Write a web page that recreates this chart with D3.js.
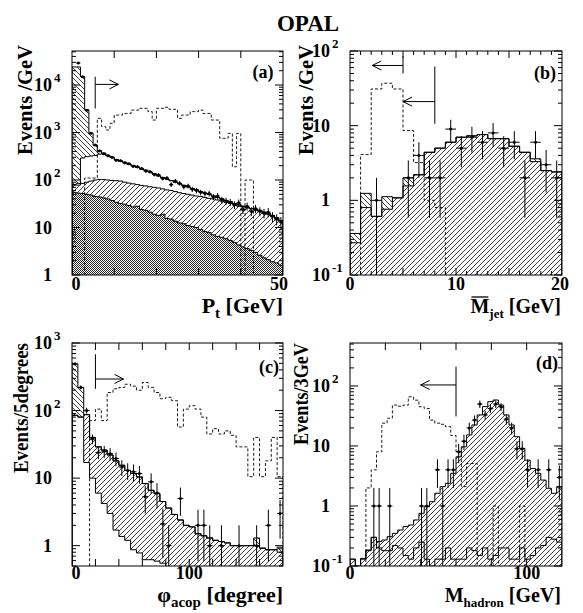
<!DOCTYPE html>
<html>
<head>
<meta charset="utf-8">
<script src="https://cdn.jsdelivr.net/npm/d3@7/dist/d3.min.js"></script>
<style>
html,body{margin:0;padding:0;background:#fff;}
svg text{font-family:"Liberation Serif","Times New Roman",Times,serif;font-weight:bold;fill:#000;}
</style>
</head>
<body>
<svg id="chart" width="583" height="613"></svg>
<script>
// ================= DATA =================
// (a) Pt [GeV], 1 GeV bins 0..50
const ptEdges = d3.range(0, 51, 1);
const ptTotal = [24000,24000,15000,3000,960,540,420,370,330,300,
  270,250,235,215,200,185,170,160,148,135,
  122,112,105,97,90,83,77,72,66,62,
  57,53,50,46,43,40,37,35,32,30,
  28,27,25,24,23,21,20,18,16,14];
const ptWhiteTop = [80,85,290,310,320,330,350,360,330,300,
  270,250,235,215,200,185,170,160,148,135,
  122,112,105,97,90,83,77,72,66,62,
  57,53,50,46,43,40,37,35,32,30,
  28,27,25,24,23,21,20,18,16,14];
const ptHatchTop = [78,78,85,90,95,100,103,102,100,98,
  97,95,90,86,83,80,77,75,72,70,
  68,65,62,60,57,54,52,50,48,46,
  45,43,41,40,38,36,34,32,30,28,
  27,26,25,23,22,20,19,17,15,14];
const ptDense = [55,53,52,50,48,45,44,42,40,37,
  34,32,31,29,27,28,24,23,21,19,
  18,19,15.5,15,13.5,12.5,12,11,10.5,10,
  9,8.2,7.8,7,6.5,6.2,5.8,5.3,4.8,4.3,
  3.9,3.6,3.3,3.0,2.6,2.3,2.1,1.9,1.8,1.6];
const ptData = [0,29000,15000,2950,970,545,410,355,325,300,
  262,255,230,220,195,190,175,155,150,130,
  128,108,110,80,95,85,72,75,64,60,
  55,52,52,44,46,38,36,34,30,33,
  24,28,22,25,22,20,21,17,15,13];
const ptSignal = [0,0,0,110,110,110,1990,1330,1130,1560,
  2330,2330,2520,2520,2960,2960,3230,3230,2750,1830,
  3230,3230,3400,3080,3080,1990,2330,2330,2750,2750,
  2960,2520,2520,1830,1830,755,755,960,190,960,
  0,100,100,0,0,0,0,0,0,0];
const ptCut = {x:5.5, top:15000, bottom:3200, arrowY:10300, to:11};

// (b) mean jet mass [GeV], 1 GeV bins 0..20
const mjEdges = d3.range(0, 21, 1);
const mjTotal = [0.36,1.24,0.61,1.12,1.08,2.0,2.2,4.4,5.0,6.0,7.0,7.3,7.6,6.7,6.7,5.3,4.4,3.6,2.5,2.4];
const mjLower = [0.27,0.8,0.61,0.76,1.08,1.56,2.2,4.4,5.0,6.0,7.0,7.3,7.6,6.7,6.7,5.3,4.4,3.3,2.5,2.4];
const mjData = [0,0,1,0,0,2,4,2,2,9,5,7,6,8,5,6,2,6,3,2];
const mjSignal = [0,4.1,31,37,31,8.6,3.2,1.0,0.8,0,0,0,0,0,0,0,0,0,0,0];
const mjCuts = [{x:5, top:85, bottom:50, arrowY:64, to:2.1},
                {x:8, top:62, bottom:10.6, arrowY:21, to:5}];

// (c) phi_acop [degree], 5 degree bins 0..180
const acEdges = d3.range(0, 181, 5);
const acTotal = [490,220,87,40,29,26,22,18,15.5,13,11.7,10.4,8.3,6.6,5.9,4.5,3.6,2.9,2.4,2.0,
  1.9,1.5,1.4,1.3,1.2,1.15,1.1,1.0,1.0,1.0,1.0,1.3,0.92,0.87,0.87,0.95];
const acLower = [85,80,87,40,29,26,22,18,15.5,13,11.7,10.4,8.3,6.6,5.9,4.5,3.6,2.9,2.4,2.0,
  1.9,1.5,1.4,1.3,1.2,1.15,1.1,1.0,1.0,1.0,1.0,1.0,0.92,0.87,0.87,0.8];
const acWhite = [85,80,17,10,6,4.2,3.0,1.7,1.37,1.2,0.87,0.78,0.62,0.62,0.59,0.55,0,0,0,0,
  0,0,0,0,0,0,0,0,0,0,0,0,0,0,0,0];
const acData = [490,220,100,38,24,25,23,19.5,14.6,13,12.4,11.7,5.3,8.8,6,2.1,1,0,5,0,
  0,2,2,1,0,1,0,0,1,0,0,1,0,2,0,3];
const acSignal = [0,0,0,71,105,71,185,210,220,245,230,200,260,220,185,150,157,140,57,105,
  118,105,80,45,54,45,50,43,29,29,10.5,40,10.5,18,40,10.5];
const acCut = {x:20, top:680, bottom:210, arrowY:293, to:44};

// (d) M_hadron [GeV], 3 GeV bins 0..120
const mhEdges = d3.range(0, 121, 3);
const mhTotal = [0.13,0,0.134,0.185,0.3,0.255,0.271,0.308,0.35,0.398,
  0.453,0.482,0.585,0.755,0.975,1.18,1.63,2.1,2.39,3.5,
  6.6,9.7,15.3,22.4,32.9,45.3,54.8,58.4,48.2,32.9,
  22.4,14.3,9.1,5.8,4.2,3.5,2.7,1.97,1.63,2.1];
const mhLower = [0.13,0.1,0.13,0.18,0.3,0.2,0.18,0.18,0.22,0.2,
  0.15,0.13,0.2,0.25,0.13,0.1,0.13,0.13,0.2,0.13,
  0.13,0.13,0.2,0.18,0.15,0.2,0.13,0.15,0.2,0.2,
  0.13,0.13,0.2,0.13,0.15,0.2,0.22,0.3,0.28,0.25];
const mhData = [0,0,0,0,1,1,0,1,0,0,0,0,0,1,1,0,4,1,4,4,
  8,12,20,27,50,33,42,50,45,28,20,9,9,4,0,4,0,4,0,3];
const mhSignal = [0,0,0,2,4,8,24,29,48,46,48,66,58,45,42,27,24,23,21,15,
  8,2.1,5.1,5.1,0,0,0,1,0,0,0,0,1,0,0,0,0,0,0,0];
const mhCut = {x:60, top:210, bottom:31, arrowY:104, to:40};

// ================= DRAWING =================
const svg = d3.select('#chart');
const defs = svg.append('defs');

function hatch(id, d, w){
  const p = defs.append('pattern').attr('id', id).attr('patternUnits','userSpaceOnUse')
    .attr('width', w).attr('height', w);
  p.append('path').attr('d', d).attr('stroke','#000').attr('stroke-width',0.75).attr('fill','none');
}
const hs = 5;
hatch('fwd', `M-1,1 L1,-1 M0,${hs} L${hs},0 M${hs-1},${hs+1} L${hs+1},${hs-1}`, hs);
hatch('bwd', `M-1,${hs-1} L1,${hs+1} M0,0 L${hs},${hs} M${hs-1},-1 L${hs+1},1`, hs);
const dp = defs.append('pattern').attr('id','dense').attr('patternUnits','userSpaceOnUse')
  .attr('width',2).attr('height',2);
dp.append('rect').attr('width',2).attr('height',2).attr('fill','#fff');
dp.append('rect').attr('width',1).attr('height',1).attr('fill','#222');
dp.append('rect').attr('x',1).attr('y',1).attr('width',1).attr('height',1).attr('fill','#222');

function makePanel(key, fr, xDom, yDom){
  const x = d3.scaleLinear().domain(xDom).range([fr.x0, fr.x1]);
  const y = d3.scaleLog().domain(yDom).range([fr.y1, fr.y0]);
  const floorV = yDom[0]*1e-3;
  const yc = v => y(Math.max(v || 0, floorV));
  defs.append('clipPath').attr('id','clip-'+key).append('rect')
    .attr('x',fr.x0).attr('y',fr.y0).attr('width',fr.x1-fr.x0).attr('height',fr.y1-fr.y0);
  const g = svg.append('g');
  const plot = g.append('g').attr('clip-path',`url(#clip-${key})`);
  return {g, plot, x, y, yc, fr, xDom, yDom};
}

function band(P, edges, lo, hi, fill){
  const pts = [];
  hi.forEach((v,i)=>{ const l = lo ? lo[i] : 0; pts.push([edges[i],l,v]); pts.push([edges[i+1],l,v]); });
  P.plot.append('path')
    .attr('d', d3.area().x(d=>P.x(d[0])).y0(d=>P.yc(d[1])).y1(d=>P.yc(d[2]))(pts))
    .attr('fill', fill).attr('stroke','none');
}

function outline(P, edges, vals, dashed){
  const pts = [[edges[0],0]];
  vals.forEach((v,i)=>{ pts.push([edges[i],v]); pts.push([edges[i+1],v]); });
  pts.push([edges[edges.length-1],0]);
  P.plot.append('path')
    .attr('d', d3.line().x(d=>P.x(d[0])).y(d=>P.yc(d[1]))(pts))
    .attr('fill','none').attr('stroke','#000')
    .attr('stroke-width', dashed ? 0.9 : 1)
    .attr('stroke-dasharray', dashed ? '3,2' : null);
}

function dataPts(P, edges, vals){
  vals.forEach((v,i)=>{
    if(!v) return;
    const xl = P.x(edges[i]), xr = P.x(edges[i+1]), xm = (xl+xr)/2;
    const e = Math.sqrt(v), yv = P.yc(v);
    P.plot.append('line').attr('x1',xm).attr('x2',xm)
      .attr('y1',P.yc(v-e)).attr('y2',P.yc(v+e)).attr('stroke','#000').attr('stroke-width',1);
    P.plot.append('line').attr('x1',xl).attr('x2',xr).attr('y1',yv).attr('y2',yv)
      .attr('stroke','#000').attr('stroke-width',1);
    P.plot.append('circle').attr('cx',xm).attr('cy',yv).attr('r',1.5).attr('fill','#000');
  });
}

function cutArrow(P, c){
  const X = P.x(c.x), X2 = P.x(c.to), Y = P.y(c.arrowY);
  const g = P.g.append('g').attr('stroke','#000').attr('stroke-width',1).attr('fill','none');
  g.append('line').attr('x1',X).attr('x2',X).attr('y1',P.y(c.top)).attr('y2',P.y(c.bottom));
  g.append('line').attr('x1',X).attr('x2',X2).attr('y1',Y).attr('y2',Y);
  const dir = Math.sign(X2-X);
  g.append('path').attr('d',`M${X2-dir*9},${Y-4.5} L${X2},${Y} L${X2-dir*9},${Y+4.5}`);
}

// xLabels: [value, pixel nudge]
function axes(P, xTicks, xLabels, xLabBase){
  const f = P.fr, g = P.g.append('g');
  g.append('rect').attr('x',f.x0).attr('y',f.y0).attr('width',f.x1-f.x0).attr('height',f.y1-f.y0)
    .attr('fill','none').attr('stroke','#000').attr('stroke-width',1);
  const tk = g.append('g').attr('stroke','#000').attr('stroke-width',1);
  xTicks.forEach(([v,len])=>{
    const X = P.x(v);
    tk.append('line').attr('x1',X).attr('x2',X).attr('y1',f.y1).attr('y2',f.y1-len);
    tk.append('line').attr('x1',X).attr('x2',X).attr('y1',f.y0).attr('y2',f.y0+len);
  });
  xLabels.forEach(([v,nudge])=>{
    g.append('text').attr('x',P.x(v)+nudge).attr('y',xLabBase).attr('text-anchor','middle')
      .attr('font-size',18).text(String(v));
  });
  const [lo,hi] = P.yDom;
  for(let e=Math.floor(Math.log10(lo)); e<=Math.ceil(Math.log10(hi)); e++){
    for(let m=1; m<=9; m++){
      const v = m*Math.pow(10,e);
      if(v < lo*0.999 || v > hi*1.001) continue;
      const Y = P.y(v), len = m===1 ? 8 : 4;
      tk.append('line').attr('x1',f.x0).attr('x2',f.x0+len).attr('y1',Y).attr('y2',Y);
      tk.append('line').attr('x1',f.x1).attr('x2',f.x1-len).attr('y1',Y).attr('y2',Y);
      if(m===1){
        if(e===0){
          g.append('text').attr('x',f.x0-20).attr('y',Y+6).attr('text-anchor','end').attr('font-size',18).text('1');
        } else {
          g.append('text').attr('x',f.x0-20).attr('y',Y+6).attr('text-anchor','end').attr('font-size',18).text('10');
          if(e!==1){
            g.append('text').attr('x',f.x0-18).attr('y',Y-3).attr('text-anchor','start').attr('font-size',13).text(String(e));
          }
        }
      }
    }
  }
}

function yTitle(xb, yTop, txt, len){
  svg.append('text').attr('transform',`translate(${xb},${yTop}) rotate(-90)`)
    .attr('text-anchor','end').attr('font-size',20)
    .attr('textLength',len).attr('lengthAdjust','spacingAndGlyphs').text(txt);
}
function xTitle(xr, yb, parts, size){
  const t = svg.append('text').attr('x',xr).attr('y',yb).attr('text-anchor','end').attr('font-size',size);
  let prevSub = false;
  parts.forEach(p=>{
    const s = t.append('tspan').text(p.t);
    if(p.sub){ s.attr('font-size',Math.round(size*0.66)).attr('dy',5); }
    else if(prevSub){ s.attr('dy',-5); }
    prevSub = !!p.sub;
  });
  return t;
}
function panelLabel(x, y, txt){
  svg.append('text').attr('x',x).attr('y',y).attr('text-anchor','middle').attr('font-size',18).text(txt);
}

// Title
svg.append('text').attr('x',308).attr('y',31).attr('text-anchor','middle').attr('font-size',23).text('OPAL');

// ---- Panel (a)
const PA = makePanel('a', {x0:72,x1:283,y0:51,y1:275}, [0,50], [1,52000]);
band(PA, ptEdges, null, ptDense, 'url(#dense)');
band(PA, ptEdges, ptDense, ptHatchTop, 'url(#fwd)');
band(PA, ptEdges, ptWhiteTop, ptTotal, 'url(#bwd)');
outline(PA, ptEdges, ptDense);
outline(PA, ptEdges, ptHatchTop);
outline(PA, ptEdges, ptWhiteTop);
outline(PA, ptEdges, ptTotal);
outline(PA, ptEdges, ptSignal, true);
dataPts(PA, ptEdges, ptData);
cutArrow(PA, ptCut);
axes(PA, [10,20,30,40].map(v=>[v,7]), [[0,4],[50,-4]], 290);
panelLabel(263, 78, '(a)');
yTitle(32, 45, 'Events /GeV', 110);
xTitle(283, 313, [{t:'P'},{t:'t',sub:true},{t:' [GeV]'}], 22);

// ---- Panel (b)
const PB = makePanel('b', {x0:350,x1:562,y0:51,y1:275}, [0,20], [0.1,100]);
band(PB, mjEdges, null, mjLower, 'url(#fwd)');
band(PB, mjEdges, mjLower, mjTotal, 'url(#bwd)');
outline(PB, mjEdges, mjLower);
outline(PB, mjEdges, mjTotal);
outline(PB, mjEdges, mjSignal, true);
dataPts(PB, mjEdges, mjData);
mjCuts.forEach(c=>cutArrow(PB, c));
axes(PB, d3.range(1,20).map(v=>[v, v%5===0 ? 7 : 4]), [[0,0],[10,0],[20,-2]], 290);
panelLabel(545, 79, '(b)');
yTitle(313, 45, 'Events /GeV', 110);
const tb = xTitle(561, 313, [{t:'M'},{t:'jet',sub:true},{t:' [GeV]'}], 20);
{
  const n = tb.node();
  const s = n.getStartPositionOfChar(0), e = n.getEndPositionOfChar(0);
  svg.append('line').attr('x1',s.x+1).attr('x2',e.x-1).attr('y1',313-16).attr('y2',313-16)
    .attr('stroke','#000').attr('stroke-width',1.3);
}

// ---- Panel (c)
const PC = makePanel('c', {x0:72,x1:283,y0:343,y1:566}, [0,180], [0.5,1000]);
band(PC, acEdges, acWhite, acLower, 'url(#fwd)');
band(PC, acEdges, acLower, acTotal, 'url(#bwd)');
outline(PC, acEdges, acWhite);
outline(PC, acEdges, acLower);
outline(PC, acEdges, acTotal);
outline(PC, acEdges, acSignal, true);
dataPts(PC, acEdges, acData);
cutArrow(PC, acCut);
axes(PC, d3.range(20,180,20).map(v=>[v,7]), [[0,4],[100,0]], 579);
panelLabel(269, 373, '(c)');
yTitle(28, 343, 'Events/5degrees', 130);
xTitle(283, 602, [{t:'\u03C6'},{t:'acop',sub:true},{t:' [degree]'}], 22);

// ---- Panel (d)
const PD = makePanel('d', {x0:350,x1:562,y0:343,y1:566}, [0,120], [0.1,520]);
band(PD, mhEdges, null, mhTotal, 'url(#fwd)');
outline(PD, mhEdges, mhTotal);
outline(PD, mhEdges, mhLower);
outline(PD, mhEdges, mhSignal, true);
dataPts(PD, mhEdges, mhData);
cutArrow(PD, mhCut);
axes(PD, d3.range(20,120,20).map(v=>[v,7]), [[0,0],[100,0]], 579);
panelLabel(547, 369, '(d)');
yTitle(308, 343, 'Events/3GeV', 102);
xTitle(561, 602, [{t:'M'},{t:'hadron',sub:true},{t:' [GeV]'}], 20);
</script>
</body>
</html>
